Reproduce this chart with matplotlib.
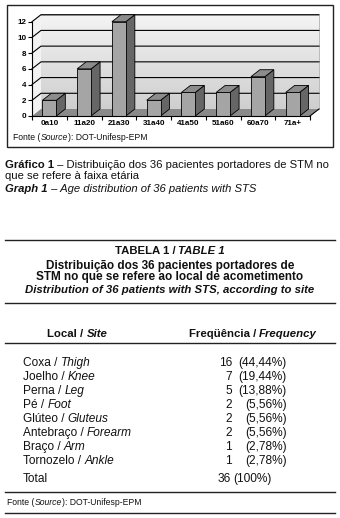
import matplotlib
matplotlib.use('Agg')
import matplotlib.pyplot as plt
from matplotlib.patches import Polygon, Rectangle
from matplotlib.lines import Line2D
from matplotlib.colors import LinearSegmentedColormap
import numpy as np

# ---------------- data ----------------
age_groups = ["0a10", "11a20", "21a30", "31a40", "41a50", "51a60", "60a70", "71a+"]
patients = [2, 6, 12, 2, 3, 3, 5, 3]
y_ticks = [0, 2, 4, 6, 8, 10, 12]

sites_pt = ["Coxa", "Joelho", "Perna", "Pé", "Glúteo", "Antebraço", "Braço", "Tornozelo"]
sites_en = ["Thigh", "Knee", "Leg", "Foot", "Gluteus", "Forearm", "Arm", "Ankle"]
site_counts = [16, 7, 5, 2, 2, 2, 1, 1]
site_pcts = ["(44,44%)", "(19,44%)", "(13,88%)", "(5,56%)", "(5,56%)", "(5,56%)", "(2,78%)", "(2,78%)"]
total_count = 36
total_pct = "(100%)"

# ---------------- figure ----------------
W, H = 340, 518
plt.rcParams['font.family'] = ['Liberation Sans', 'DejaVu Sans']
fig = plt.figure(figsize=(W / 100, H / 100), dpi=100)
fig.patch.set_facecolor('white')


def fx(x):
    return x / W


def fy(y):
    return 1 - y / H


renderer = fig.canvas.get_renderer()


def text_w(s, size, weight, style):
    t = fig.text(0, 0, "|" + s + "|", fontsize=size, fontweight=weight, fontstyle=style)
    t2 = fig.text(0, 0, "||", fontsize=size, fontweight=weight, fontstyle=style)
    w = t.get_window_extent(renderer).width - t2.get_window_extent(renderer).width
    t.remove()
    t2.remove()
    return w


def rich(x, y, parts, size, ha='left'):
    widths = [text_w(s, size, wt, st) for s, wt, st in parts]
    total = sum(widths)
    cur = x - (total if ha == 'right' else total / 2 if ha == 'center' else 0)
    for (s, wt, st), wd in zip(parts, widths):
        fig.text(fx(cur), fy(y), s, fontsize=size, fontweight=wt, fontstyle=st,
                 va='baseline', ha='left', color='#111111')
        cur += wd


def hline(y, xa, xb, lw=1.0, color='#222222'):
    fig.add_artist(Line2D([fx(xa), fx(xb)], [fy(y), fy(y)], transform=fig.transFigure,
                          color=color, lw=lw))


# ---------------- chart frame ----------------
fig.add_artist(Rectangle((fx(7), fy(147)), (333 - 7) / W, (147 - 5) / H,
                         transform=fig.transFigure, fill=False, ec='#222222', lw=1.0))

# ---------------- chart axes ----------------
px_x0, px_x1 = 32, 310
px_y0, px_y1 = 116, 21.7
ax = fig.add_axes([fx(px_x0), fy(px_y0), (px_x1 - px_x0) / W, (px_y0 - px_y1) / H])
ax.patch.set_visible(False)
n = len(age_groups)
xs = np.arange(n)
ymax = y_ticks[-1]
DX = 9 / ((px_x1 - px_x0) / n)
DY = 7 / ((px_y0 - px_y1) / ymax)
xl, xr = -0.5, n - 0.5

# back wall with gradient
cmap = LinearSegmentedColormap.from_list('wall', ['#cfcfcf', '#f4f4f4'])
grad = np.linspace(0, 1, 100).reshape(-1, 1)
im = ax.imshow(grad, extent=[xl + DX, xr + DX, DY, ymax + DY], origin='lower',
               aspect='auto', cmap=cmap, zorder=0, interpolation='bilinear')
im.set_clip_on(False)
# left wall
ax.add_patch(Polygon([(xl, 0), (xl, ymax), (xl + DX, ymax + DY), (xl + DX, DY)],
                     closed=True, fc='#f3f3f3', ec='none', zorder=0.5, clip_on=False))
# wall outline
ax.plot([xl + DX, xr + DX, xr + DX], [ymax + DY, ymax + DY, DY], color='#b0b0b0',
        lw=0.6, zorder=0.6, clip_on=False)
# floor
ax.add_patch(Polygon([(xl, 0), (xr, 0), (xr + DX, DY), (xl + DX, DY)],
                     closed=True, fc='#8a8a8a', ec='none', zorder=1, clip_on=False))
ax.plot([xr, xr + DX], [0, DY], color='black', lw=0.8, zorder=1.2, clip_on=False)
# gridlines
for v in y_ticks[1:]:
    ax.plot([xl, xl + DX, xr + DX], [v, v + DY, v + DY], color='black', lw=0.8,
            zorder=1.5, clip_on=False)

# bars
bw = 0.4
ax.bar(xs, patients, width=bw, color='#a5a5a5', edgecolor='black', linewidth=0.6,
       zorder=3, clip_on=False)
for x, v in zip(xs, patients):
    r = x + bw / 2
    l = x - bw / 2
    ax.add_patch(Polygon([(r, 0), (r, v), (r + DX, v + DY), (r + DX, DY)], closed=True,
                         fc='#666666', ec='black', lw=0.6, zorder=2.9, clip_on=False))
    ax.add_patch(Polygon([(l, v), (r, v), (r + DX, v + DY), (l + DX, v + DY)], closed=True,
                         fc='#8c8c8c', ec='black', lw=0.6, zorder=2.9, clip_on=False))

ax.set_xlim(xl, xr)
ax.set_ylim(0, ymax)
for s in ['top', 'right']:
    ax.spines[s].set_visible(False)
for s in ['left', 'bottom']:
    ax.spines[s].set_linewidth(0.8)
    ax.spines[s].set_zorder(4)
ax.set_yticks(y_ticks)
ax.set_yticklabels([str(v) for v in y_ticks], fontsize=5.8, fontweight='bold')
ax.set_xticks(xs)
ax.set_xticklabels(age_groups, fontsize=5.8, fontweight='bold')
ax.set_xticks(np.arange(n + 1) - 0.5, minor=True)
ax.tick_params(axis='y', length=3, width=0.8, pad=1, direction='out')
ax.tick_params(axis='x', which='major', length=0, pad=3)
ax.tick_params(axis='x', which='minor', length=3, width=0.8, direction='out')

# chart source
rich(13, 140, [("Fonte (", 'normal', 'normal'), ("Source", 'normal', 'italic'),
               ("): DOT-Unifesp-EPM", 'normal', 'normal')], 6.2)

# ---------------- caption ----------------
cap = 8.1
rich(5, 168.3, [("Gráfico 1", 'bold', 'normal'),
                (" – Distribuição dos 36 pacientes portadores de STM no", 'normal', 'normal')], cap)
rich(5, 178.6, [("que se refere à faixa etária", 'normal', 'normal')], cap)
rich(5, 191.7, [("Graph 1", 'bold', 'italic'),
                (" – Age distribution of 36 patients with STS", 'normal', 'italic')], cap)

# ---------------- table ----------------
tsz = 8.2
hline(240, 5, 335)
rich(170, 254, [("TABELA 1 / ", 'bold', 'normal'), ("TABLE 1", 'bold', 'italic')], tsz, 'center')
rich(170, 269.3, [("Distribuição dos 36 pacientes portadores de", 'bold', 'normal')], 8.5, 'center')
rich(170, 280.3, [("STM no que se refere ao local de acometimento", 'bold', 'normal')], 8.5, 'center')
rich(170, 293.3, [("Distribution of 36 patients with STS, according to site", 'bold', 'italic')],
     tsz, 'center')
hline(302.7, 5, 335)

rich(77.5, 337, [("Local / ", 'bold', 'normal'), ("Site", 'bold', 'italic')], 8.2, 'center')
rich(253, 337, [("Freqüência / ", 'bold', 'normal'), ("Frequency", 'bold', 'italic')], 8.2, 'center')
hline(343, 5, 335)

row_size = 8.6
for i, (pt, en, c, p) in enumerate(zip(sites_pt, sites_en, site_counts, site_pcts)):
    yb = 366 + 14 * i
    rich(23, yb, [(pt + " / ", 'normal', 'normal'), (en, 'normal', 'italic')], row_size)
    rich(232, yb, [(str(c), 'normal', 'normal')], row_size, 'right')
    rich(287, yb, [(p, 'normal', 'normal')], row_size, 'right')
rich(23, 481.7, [("Total", 'normal', 'normal')], row_size)
rich(231, 481.7, [(str(total_count), 'normal', 'normal')], row_size, 'right')
rich(233.5, 481.7, [(total_pct, 'normal', 'normal')], row_size)

hline(492.3, 5, 335)
rich(7, 505, [("Fonte (", 'normal', 'normal'), ("Source", 'normal', 'italic'),
              ("): DOT-Unifesp-EPM", 'normal', 'normal')], 6.2)
hline(513.3, 5, 335)

fig.savefig('out.png', dpi=100, facecolor='white')
